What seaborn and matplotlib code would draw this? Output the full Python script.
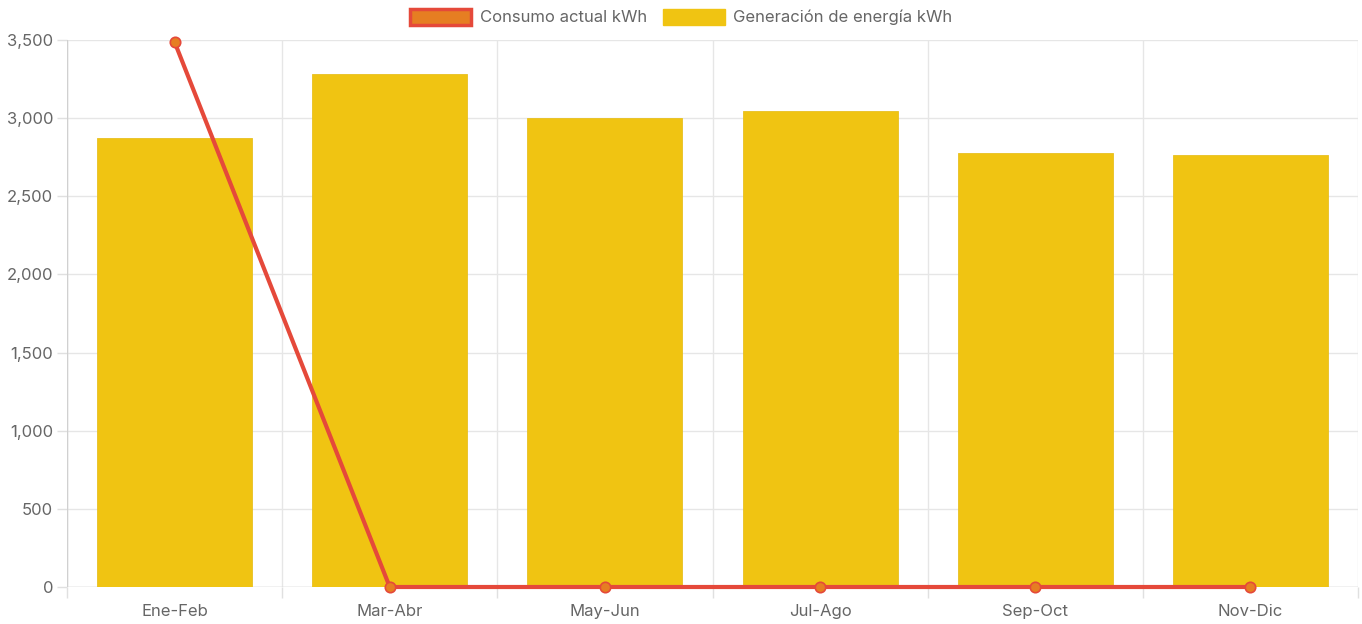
import matplotlib
matplotlib.use("Agg")
import matplotlib.pyplot as plt
from matplotlib.patches import Patch
from matplotlib.ticker import FuncFormatter, MultipleLocator, FixedLocator
import seaborn as sns
import pandas as pd

categories = ["Ene-Feb", "Mar-Abr", "May-Jun", "Jul-Ago", "Sep-Oct", "Nov-Dic"]
generacion = [2875, 3284, 3003, 3047, 2779, 2766]
consumo = [3487, 0, 0, 0, 0, 0]

sns.set_theme(style="white")
plt.rcParams['font.family'] = ['Inter', 'DejaVu Sans']

fig = plt.figure(figsize=(13.62, 6.24), dpi=100)
ax = fig.add_axes([67/1362, 1 - 587/624, (1358 - 67)/1362, (587 - 40)/624])

df = pd.DataFrame({"cat": categories, "gen": generacion, "con": consumo})
sns.barplot(data=df, x="cat", y="gen", color="#F0C412", saturation=1, width=0.72,
            ax=ax, zorder=2, edgecolor="#E8C020", linewidth=0.6)
sns.lineplot(data=df, x="cat", y="con", color="#E5493A", linewidth=3.0, marker="o",
             markersize=7.5, markerfacecolor="#E67E22", markeredgecolor="#E5493A",
             markeredgewidth=1.2, ax=ax, zorder=4, sort=False, clip_on=False)

ax.set_xlim(-0.5, len(categories) - 0.5)
ax.set_ylim(0, 3500)
ax.yaxis.set_major_locator(MultipleLocator(500))
ax.yaxis.set_major_formatter(FuncFormatter(lambda v, p: f"{int(v):,}"))
ax.set_xlabel("")
ax.set_ylabel("")

# grid lines: horizontal at ticks, vertical at category boundaries
for y in range(0, 3501, 500):
    ax.axhline(y, color="#E6E6E6", linewidth=1, zorder=0)
for xb in [i - 0.5 for i in range(len(categories) + 1)]:
    ax.axvline(xb, color="#E6E6E6", linewidth=1, zorder=0)
ax.axhline(0, color="#D0D0D0", linewidth=1, zorder=1)
ax.axvline(-0.5, color="#D0D0D0", linewidth=1, zorder=1)

for s in ax.spines.values():
    s.set_visible(False)

ax.xaxis.set_minor_locator(FixedLocator([i - 0.5 for i in range(len(categories) + 1)]))
ax.tick_params(axis="x", which="major", bottom=False, length=0, pad=12, labelsize=12,
               labelcolor="#666666")
ax.tick_params(axis="x", which="minor", bottom=True, length=8, width=1, color="#E0E0E0")
ax.tick_params(axis="y", which="major", left=True, length=7, width=1, color="#E0E0E0", pad=3,
               labelsize=12, labelcolor="#666666")

handles = [
    Patch(facecolor="#E67E22", edgecolor="#E5493A", linewidth=2.5, label="Consumo actual kWh"),
    Patch(facecolor="#F0C412", edgecolor="#F0C412", linewidth=1, label="Generación de energía kWh"),
]
fig.legend(handles=handles, loc="center", bbox_to_anchor=(0.5, 1 - 17/624), ncol=2,
           frameon=False, fontsize=12, handlelength=3.7, handleheight=1.15,
           columnspacing=1.0, handletextpad=0.5, labelcolor="#666666")

fig.savefig("out.png", dpi=100)
